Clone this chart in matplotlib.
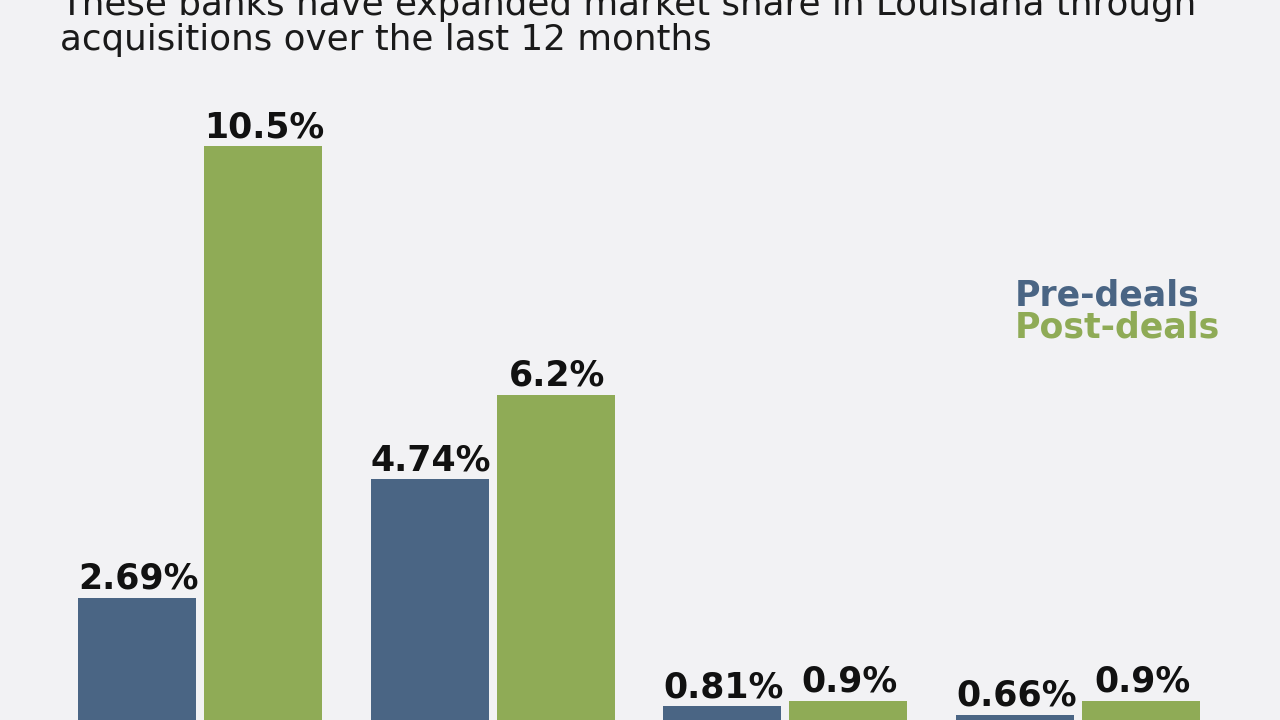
import matplotlib
matplotlib.use("Agg")
import matplotlib.pyplot as plt
import numpy as np

# Data
groups = ["Bank A", "Bank B", "Bank C", "Bank D"]
pre_deals = [2.69, 4.74, 0.81, 0.66]
post_deals = [10.5, 6.2, 0.9, 0.9]
pre_labels = ["2.69%", "4.74%", "0.81%", "0.66%"]
post_labels = ["10.5%", "6.2%", "0.9%", "0.9%"]
title_lines = ["These banks have expanded market share in Louisiana through",
               "acquisitions over the last 12 months"]

BG = "#f2f2f4"
BLUE = "#4a6584"
GREEN = "#8fab56"

fig = plt.figure(figsize=(12.8, 7.2), dpi=100, facecolor=BG)
W, H = 1280, 720
baseline_px = 753
ppu = 57.8
ax = fig.add_axes([0, (H - baseline_px) / H, 1, baseline_px / H])
ax.set_facecolor(BG)
ax.set_ylim(0, baseline_px / ppu)
spacing = 292.7
xc0 = 200
ax.set_xlim(-xc0 / spacing, (W - xc0) / spacing)
ax.axis("off")

x = np.arange(len(groups))
off = 63 / spacing
width = 118 / spacing
b1 = ax.bar(x - off, pre_deals, width, color=BLUE)
b2 = ax.bar(x + off, post_deals, width, color=GREEN)

for bars, labels in ((b1, pre_labels), (b2, post_labels)):
    for rect, lab in zip(bars, labels):
        ax.annotate(lab, (rect.get_x() + rect.get_width() / 2, rect.get_height()),
                    xytext=(1, 6.5), textcoords="offset points",
                    ha="center", va="baseline", fontsize=25,
                    fontweight="bold", family="DejaVu Sans", color="#111111")

fig.text(1015 / W, 1 - 305 / H, "Pre-deals", color=BLUE, fontsize=25,
         fontweight="bold", family="DejaVu Sans", ha="left", va="baseline")
fig.text(1015 / W, 1 - 338 / H, "Post-deals", color=GREEN, fontsize=25,
         fontweight="bold", family="DejaVu Sans", ha="left", va="baseline")

fig.text(60 / W, 1 - 15 / H, title_lines[0], fontsize=25.7, family="DejaVu Sans",
         color="#1a1a1a", ha="left", va="baseline")
fig.text(60 / W, 1 - 50 / H, title_lines[1], fontsize=25.7, family="DejaVu Sans",
         color="#1a1a1a", ha="left", va="baseline")

fig.savefig("out.png", dpi=100, facecolor=BG)
